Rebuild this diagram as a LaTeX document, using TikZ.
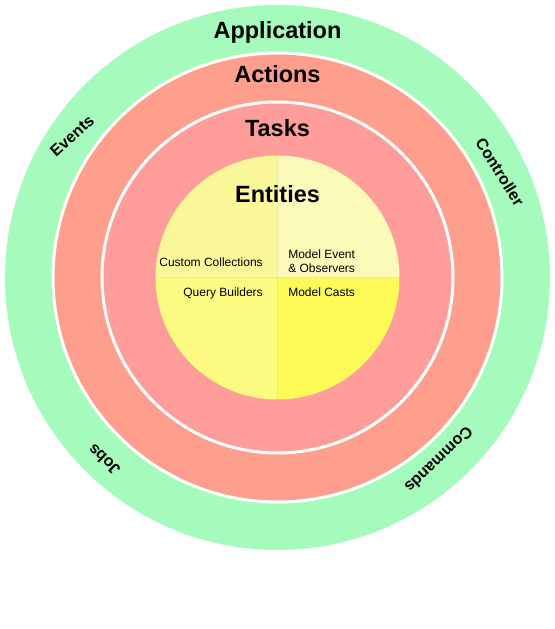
\documentclass[tikz,border=0pt]{standalone}
\usepackage{fontspec}
\setmainfont{Liberation Sans}
\usepackage{tikz}

\definecolor{appgreen}{HTML}{A4FBBB}
\definecolor{actred}{HTML}{FE9F8E}
\definecolor{taskred}{HTML}{FE9D9A}
\definecolor{entA}{HTML}{FBF89A}
\definecolor{entB}{HTML}{FBFAB8}
\definecolor{entC}{HTML}{FCFA80}
\definecolor{entD}{HTML}{FDFA58}

\tikzset{
  title/.style={font=\fontsize{17.6}{20}\selectfont\bfseries, inner sep=0pt},
  side/.style={font=\fontsize{12}{14}\selectfont\bfseries, inner sep=0pt},
  small/.style={font=\fontsize{9}{10.5}\selectfont, inner sep=0pt}
}

\begin{document}
\begin{tikzpicture}[x=0.75pt, y=0.75pt]

        	\useasboundingbox (-277.5, 277.5) rectangle (276.5, -351.5);

        	% rings
        	\fill[appgreen] (0, 0) circle (272.5);
        	\draw[white, line width=2.25pt, fill=actred] (0, 0) circle (224.5);
        	\draw[white, line width=2.25pt, fill=taskred] (0, 0) circle (175.5);

        	% entities quarters
        	\fill[entA] (0, 0) -- (-122, 0) arc (180:90:122) -- cycle;
        	\fill[entB] (0, 0) -- (0, 122) arc (90:0:122) -- cycle;
        	\fill[entC] (0, 0) -- (-122, 0) arc (180:270:122) -- cycle;
        	\fill[entD] (0, 0) -- (0, -122) arc (270:360:122) -- cycle;

        	\node[title] (app) at (0, 245.5) {Application};
        	\node[title] (act) at (0, 203.5) {Actions};
        	\node[title] (task) at (0, 149.5) {Tasks};
        	\node[title] (ent) at (0, 83.5) {Entities};

        	\node[side, rotate=42] (events) at (-205.5, 141.5) {Events};
        	\node[side, rotate=-58] (ctrl) at (222.5, 105.5) {Controller};
        	\node[side, rotate=-136] (cmds) at (161.5, -182.5) {Commands};
        	\node[side, rotate=136] (jobs) at (-173.5, -182.5) {Jobs};

        	\node[small, anchor=east] (coll) at (-14.5, 15.5) {Custom Collections};
        	\node[small, anchor=east] (query) at (-14.5, -15.5) {Query Builders};
        	\node[small, anchor=west, align=left] (obs) at (10.5, 16.5) {Model Event\\\& Observers};
        	\node[small, anchor=west] (casts) at (10.5, -14.5) {Model Casts};

\end{tikzpicture}
\end{document}
